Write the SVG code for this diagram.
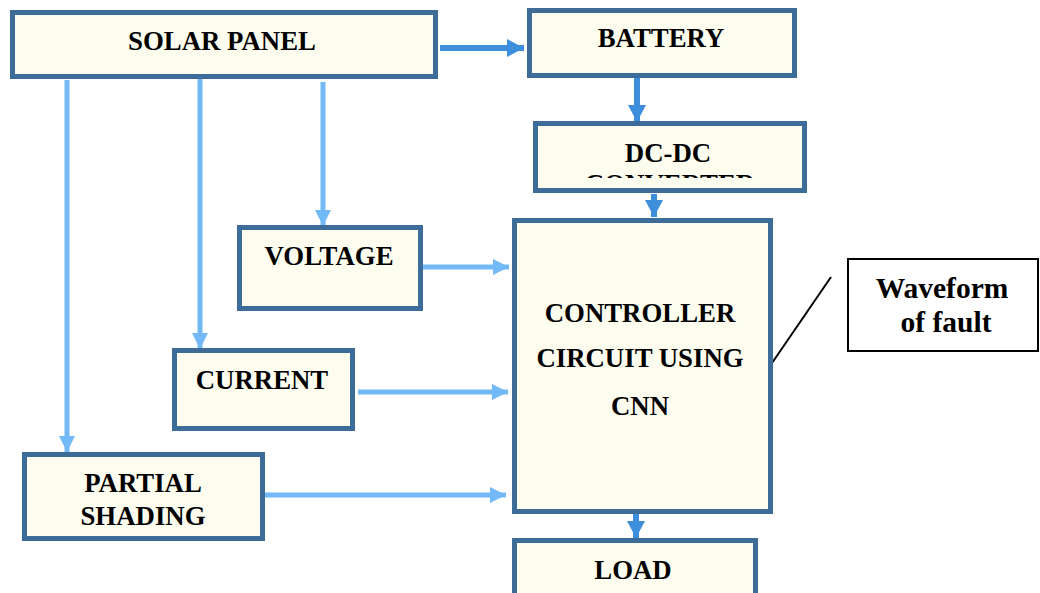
<svg xmlns="http://www.w3.org/2000/svg" width="1040" height="593" viewBox="0 0 1040 593">
<style>
.box{fill:#fdfdef;stroke:#3e6c99;stroke-width:5}
.t{font-family:'Liberation Serif','DejaVu Serif',serif;font-weight:700;font-size:26.8px;fill:#000;text-anchor:middle}
.w{font-size:29.5px}
.lt{stroke:#74b9f7;stroke-width:5;fill:none}
.dk{stroke:#3d8fdc;stroke-width:6;fill:none}
</style>
<defs>
<marker id="al" markerUnits="userSpaceOnUse" viewBox="0 0 16 16" refX="16" refY="8" markerWidth="16" markerHeight="16" orient="auto"><path d="M0,0 L16,8 L0,16 z" fill="#74b9f7"/></marker>
<marker id="ad" markerUnits="userSpaceOnUse" viewBox="0 0 17 18" refX="17" refY="9" markerWidth="17" markerHeight="18" orient="auto"><path d="M0,0 L17,9 L0,18 z" fill="#3d8fdc"/></marker>
<clipPath id="dcclip"><rect x="538" y="126" width="264" height="52"/></clipPath>
</defs>
<rect width="1040" height="593" fill="#fff"/>
<g id="connectors">
<line class="dk" x1="440" y1="48" x2="524" y2="48" marker-end="url(#ad)"/>
<line class="dk" x1="637" y1="78" x2="637" y2="122" marker-end="url(#ad)"/>
<line class="dk" x1="654" y1="194" x2="654" y2="217" marker-end="url(#ad)"/>
<line class="dk" x1="636" y1="514" x2="636" y2="538" marker-end="url(#ad)"/>
<line class="lt" x1="67" y1="80" x2="67" y2="452" marker-end="url(#al)"/>
<line class="lt" x1="200" y1="74" x2="200" y2="349" marker-end="url(#al)"/>
<line class="lt" x1="323" y1="82" x2="323" y2="226" marker-end="url(#al)"/>
<line class="lt" x1="421" y1="267" x2="509" y2="267" marker-end="url(#al)"/>
<line class="lt" x1="358" y1="392" x2="508" y2="392" marker-end="url(#al)"/>
<line class="lt" x1="265" y1="495" x2="506" y2="495" marker-end="url(#al)"/>
<line x1="772" y1="363" x2="831" y2="277" stroke="#000" stroke-width="2"/>
</g>
<g id="solar"><rect class="box" x="12.5" y="12.5" width="423" height="64"/><text class="t" x="222" y="50">SOLAR PANEL</text></g>
<g id="battery"><rect class="box" x="529.5" y="10.5" width="265" height="65"/><text class="t" x="661" y="47">BATTERY</text></g>
<g id="dcdc"><rect class="box" x="535.5" y="123.5" width="269" height="67"/><text class="t" x="668" y="162">DC-DC</text><text class="t" x="670" y="193" clip-path="url(#dcclip)">CONVERTER</text></g>
<g id="controller"><rect class="box" x="514.5" y="220.5" width="256" height="291"/><text class="t" x="640" y="322">CONTROLLER</text><text class="t" x="640" y="367">CIRCUIT USING</text><text class="t" x="640" y="415">CNN</text></g>
<g id="load"><rect class="box" x="514.5" y="540.5" width="241" height="60"/><text class="t" x="633" y="579">LOAD</text></g>
<g id="voltage"><rect class="box" x="239.5" y="227.5" width="181" height="81"/><text class="t" x="329" y="265">VOLTAGE</text></g>
<g id="current"><rect class="box" x="174.5" y="350.5" width="178" height="78"/><text class="t" x="262" y="389">CURRENT</text></g>
<g id="partial"><rect class="box" x="24.5" y="454.5" width="238" height="84"/><text class="t" x="143" y="492">PARTIAL</text><text class="t" x="143" y="525">SHADING</text></g>
<g id="waveform"><rect x="848" y="259" width="190" height="92" fill="#fff" stroke="#000" stroke-width="2"/><text class="t w" x="942" y="298">Waveform</text><text class="t w" x="946" y="332">of fault</text></g>
</svg>
